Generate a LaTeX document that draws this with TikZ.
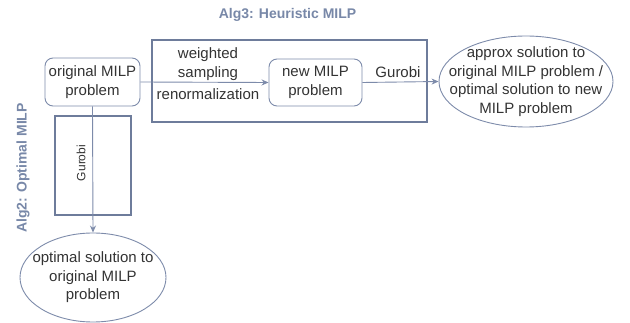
\documentclass[tikz,border=0pt]{standalone}
\usepackage{fontspec}
\setmainfont{Liberation Sans}
\usetikzlibrary{shapes.geometric,arrows.meta}
\definecolor{lineblue}{HTML}{7D8BAA}
\definecolor{boxblue}{HTML}{6E7C9B}
\definecolor{titleblue}{HTML}{7888A8}
\definecolor{txt}{HTML}{333333}
\tikzset{
  rbox/.style={draw=lineblue, line width=0.9pt, rounded corners=8pt, align=center, text=txt, font=\fontsize{15}{18.5}\selectfont, inner sep=0pt},
  ell/.style={draw=lineblue, line width=0.9pt, ellipse, align=center, text=txt, font=\fontsize{15}{18.5}\selectfont},
  algbox/.style={draw=boxblue, line width=2.2pt, inner sep=0pt},
  conn/.style={draw=lineblue, line width=0.9pt, -{Stealth[length=7pt,width=6pt]}},
  lbl/.style={text=txt, font=\fontsize{15}{18.5}\selectfont, align=center, inner sep=0pt},
  ttl/.style={text=titleblue, font=\bfseries\fontsize{14}{17}\selectfont, inner sep=0pt}
}
\begin{document}
\begin{tikzpicture}[x=1pt,y=-1pt]
\useasboundingbox (0,0) rectangle (630,323);
% algorithm boxes
\node[algbox, minimum width=275pt, minimum height=82pt] (alg3box) at (289.5,81) {};
\node[algbox, minimum width=76pt, minimum height=99pt] (alg2box) at (93,165.5) {};
% titles
\node[ttl] (alg3title) at (287.5,15) {Alg3: Heuristic MILP};
\node[ttl, rotate=90] (alg2title) at (23,168) {Alg2: Optimal MILP};
% nodes
\node[rbox, minimum width=95pt, minimum height=48pt] (orig) at (92.5,82) {original MILP\\problem};
\node[rbox, minimum width=93pt, minimum height=47pt] (new) at (315.5,82.5) {new MILP\\problem};
\node[ell, inner xsep=-18pt, inner ysep=-6pt, minimum width=174pt, minimum height=91pt] (approx) at (526,81.5) {approx solution to\\original MILP problem /\\optimal solution to new\\MILP problem};
\node[ell, inner xsep=-9pt, inner ysep=-2pt, minimum width=146pt, minimum height=89pt] (optsol) at (93,277.5) {optimal solution to\\original MILP\\problem};
% connectors
\draw[conn] (orig.east) -- (new.west);
\draw[conn] (new.east) -- (approx.west);
\draw[conn] (orig.south) -- (optsol.north);
% labels
\node[lbl] (wlbl) at (208,64) {weighted\\sampling};
\node[lbl] (rlbl) at (208,94) {renormalization};
\node[lbl] (glbl) at (398,72) {Gurobi};
\node[lbl, rotate=90, font=\fontsize{12}{14}\selectfont] (vglbl) at (81,163) {Gurobi};
\end{tikzpicture}
\end{document}
